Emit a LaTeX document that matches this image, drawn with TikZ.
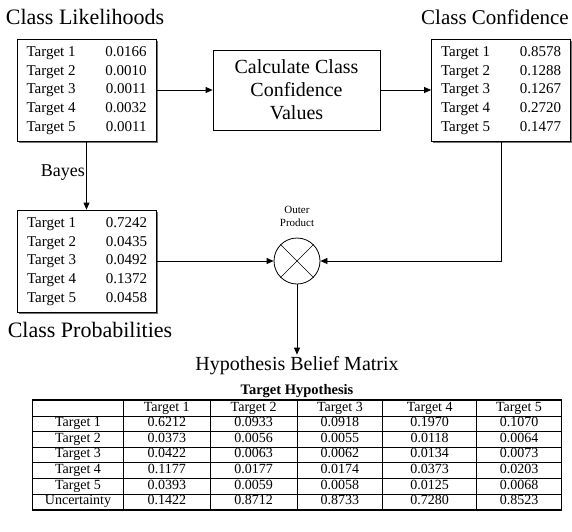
\documentclass[tikz,border=0pt]{standalone}
\usepackage{fontspec}
\setmainfont{Liberation Serif}
\usepackage{array}
\usetikzlibrary{arrows.meta,shadows}

\newcommand{\pxfont}[2]{\fontsize{#1}{#2}\selectfont}
\newcolumntype{C}[1]{>{\centering\arraybackslash}p{#1}}
\newcommand{\targetlist}[5]{%
  \begin{tabular*}{120pt}{@{}l@{\extracolsep{\fill}}r@{}}
    Target 1 & #1\\ Target 2 & #2\\ Target 3 & #3\\ Target 4 & #4\\ Target 5 & #5
  \end{tabular*}}

\begin{document}
\begin{tikzpicture}[x=1pt, y=-1pt]
  \tikzset{
    list_box/.style={draw, fill=white, line width=0.8pt, inner sep=0pt, minimum width=139pt, minimum height=102pt,
      font=\pxfont{15}{18.7}, drop shadow={shadow xshift=1.5pt, shadow yshift=-1.5pt, fill=black!55, opacity=1}},
    calc_box/.style={draw, line width=0.8pt, minimum width=167pt, minimum height=80pt, align=center, font=\pxfont{20}{23}},
    title/.style={inner sep=1pt, font=\pxfont{22}{25}},
    flow/.style={line width=0.8pt, -{Triangle[length=7pt, width=6pt]}}
  }
  \useasboundingbox (0,0) rectangle (572,531);

  % Titel der Boxen
  \node[title] (lik_title) at (85,17) {Class Likelihoods};
  \node[title, font=\pxfont{21}{25}] (conf_title) at (495,17) {Class Confidence};
  \node[title] (prob_title) at (90,330) {Class Probabilities};

  % Boxen mit Werten
  \node[list_box] (lik) at (86.5,90) {\targetlist{0.0166}{0.0010}{0.0011}{0.0032}{0.0011}};
  \node[list_box] (conf) at (501,90) {\targetlist{0.8578}{0.1288}{0.1267}{0.2720}{0.1477}};
  \node[list_box] (prob) at (87,261) {\targetlist{0.7242}{0.0435}{0.0492}{0.1372}{0.0458}};
  \node[calc_box] (calc) at (296.5,90) {Calculate Class\\Confidence\\Values};

  % Aeusseres Produkt
  \node[circle, draw, line width=0.8pt, minimum size=46pt, inner sep=0pt] (op) at (297,261) {};
  \draw[line width=0.6pt] (op.north west) -- (op.south east);
  \draw[line width=0.6pt] (op.north east) -- (op.south west);
  \node[align=center, font=\pxfont{11}{13}] (op_label) at (297,216) {Outer\\Product};

  % Verbindungen
  \draw[flow] (lik.east) -- (calc.west);
  \draw[flow] (calc.east) -- (conf.west);
  \draw[flow] (lik.south) -- (lik.south |- prob.north);
  \node[anchor=east, inner sep=1pt, font=\pxfont{18}{20}] (bayes) at (86,173) {Bayes};
  \draw[flow] (prob.east) -- (op.west);
  \draw[flow] (conf.south) |- (op.east);

  % Ergebnis
  \node[inner sep=2pt, font=\pxfont{20}{23}] (hbm_title) at (297,366) {Hypothesis Belief Matrix};
  \draw[flow] (op.south) -- (hbm_title.north);
  \node[inner sep=0pt, font=\pxfont{14.5}{16}\bfseries] (hyp_title) at (297,391) {Target Hypothesis};
  \node[draw, line width=1.2pt, inner sep=0pt, font=\pxfont{14}{14.8}] (hbm) at (297,455) {%
    \setlength{\tabcolsep}{0pt}\setlength{\arrayrulewidth}{0.8pt}%
    \begin{tabular}{|C{90pt}|C{86pt}|C{86pt}|C{85pt}|C{93pt}|C{84pt}|}
      \hline
      & Target 1 & Target 2 & Target 3 & Target 4 & Target 5\\ \hline
      Target 1 & 0.6212 & 0.0933 & 0.0918 & 0.1970 & 0.1070\\ \hline
      Target 2 & 0.0373 & 0.0056 & 0.0055 & 0.0118 & 0.0064\\ \hline
      Target 3 & 0.0422 & 0.0063 & 0.0062 & 0.0134 & 0.0073\\ \hline
      Target 4 & 0.1177 & 0.0177 & 0.0174 & 0.0373 & 0.0203\\ \hline
      Target 5 & 0.0393 & 0.0059 & 0.0058 & 0.0125 & 0.0068\\ \hline
      Uncertainty & 0.1422 & 0.8712 & 0.8733 & 0.7280 & 0.8523\\ \hline
    \end{tabular}};
\end{tikzpicture}
\end{document}
